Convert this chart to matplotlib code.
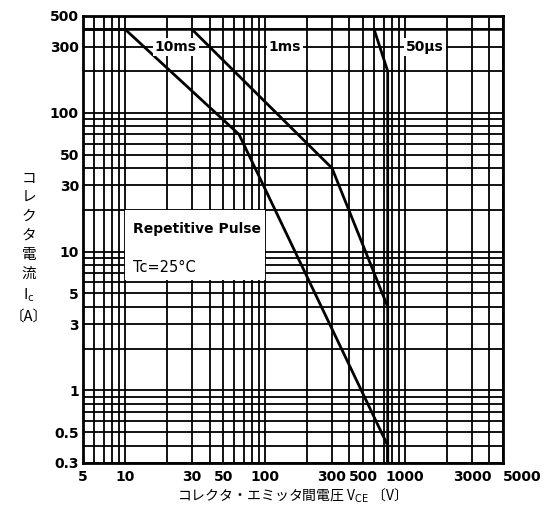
import matplotlib
matplotlib.use('Agg')
import matplotlib.pyplot as plt
from matplotlib.patches import Rectangle
from matplotlib.ticker import FixedLocator, NullFormatter
import numpy as np

plt.rcParams['font.family'] = ['DejaVu Sans', 'Noto Sans CJK JP']

# safe operating area curves (Vce [V], Ic [A])
vce_10ms = [5, 10, 65, 750, 750]
ic_10ms = [400, 400, 70, 0.4, 0.3]
vce_1ms = [30, 300, 750]
ic_1ms = [400, 40, 4]
vce_50us = [600, 750, 750]
ic_50us = [400, 200, 0.3]

x_ticks = [5, 10, 30, 50, 100, 300, 500, 1000, 3000, 5000]
y_ticks = [0.3, 0.5, 1, 3, 5, 10, 30, 50, 100, 300, 500]

x_grid = [m * 10**d for d in range(0, 4) for m in range(1, 10) if 5 <= m * 10**d <= 5000]
y_grid = [m * 10.0**d for d in range(-1, 3) for m in range(1, 10) if 0.3 <= m * 10.0**d <= 500]

fig = plt.figure(figsize=(5.54, 5.16), dpi=100)
ax = fig.add_axes([0.150, 0.103, 0.758, 0.866])
ax.set_xscale('log')
ax.set_yscale('log')
ax.set_xlim(5, 5000)
ax.set_ylim(0.3, 500)

for xv in x_grid:
    ax.axvline(xv, color='black', lw=1.3, zorder=1)
for yv in y_grid:
    ax.axhline(yv, color='black', lw=1.3, zorder=1)
ax.axhline(400, color='black', lw=1.8, zorder=1)

# white panel behind the condition text
ax.add_patch(Rectangle((10, 6.2), 90, 13.8, facecolor='white', edgecolor='none', zorder=2))

ax.plot(vce_10ms, ic_10ms, color='black', lw=2.0, zorder=3)
ax.plot(vce_1ms, ic_1ms, color='black', lw=2.0, zorder=3)
ax.plot(vce_50us, ic_50us, color='black', lw=2.0, zorder=3)

box = dict(facecolor='white', edgecolor='none', pad=1.5)
ax.text(23, 300, '10ms', ha='center', va='center', fontsize=10, fontweight='bold', bbox=box, zorder=4)
ax.text(138, 300, '1ms', ha='center', va='center', fontsize=10, fontweight='bold', bbox=box, zorder=4)
ax.text(1380, 300, '50μs', ha='center', va='center', fontsize=10, fontweight='bold', bbox=box, zorder=4)
ax.text(11.3, 14.5, 'Repetitive Pulse', ha='left', va='center', fontsize=10, fontweight='bold', zorder=4)
ax.text(11.3, 7.7, 'Tc=25°C', ha='left', va='center', fontsize=10.5, zorder=4)

ax.xaxis.set_major_locator(FixedLocator(x_ticks))
ax.yaxis.set_major_locator(FixedLocator(y_ticks))
ax.xaxis.set_minor_formatter(NullFormatter())
ax.yaxis.set_minor_formatter(NullFormatter())
xlabels = ax.set_xticklabels([str(v) for v in x_ticks], fontsize=10, fontweight='bold')
xlabels[-1].set_ha('left')
ax.set_yticklabels([('%g' % v) for v in y_ticks], fontsize=10, fontweight='bold')
ax.tick_params(which='both', length=0, pad=5)
ax.tick_params(axis='y', pad=3)

for sp in ax.spines.values():
    sp.set_linewidth(2.0)
    sp.set_zorder(5)

fig.text(0.52, 0.04, 'コレクタ・エミッタ間電圧 V$_{\\rm CE}$ 〔V〕', ha='center', va='center',
         fontsize=10, family=['Noto Sans CJK JP', 'DejaVu Sans'])
fig.text(0.052, 0.52, 'コ\nレ\nク\nタ\n電\n流\nI$_{\\rm c}$\n〔A〕', ha='center', va='center',
         fontsize=10.5, linespacing=1.45, family=['Noto Sans CJK JP', 'DejaVu Sans'])

fig.savefig('out.png', dpi=100)
